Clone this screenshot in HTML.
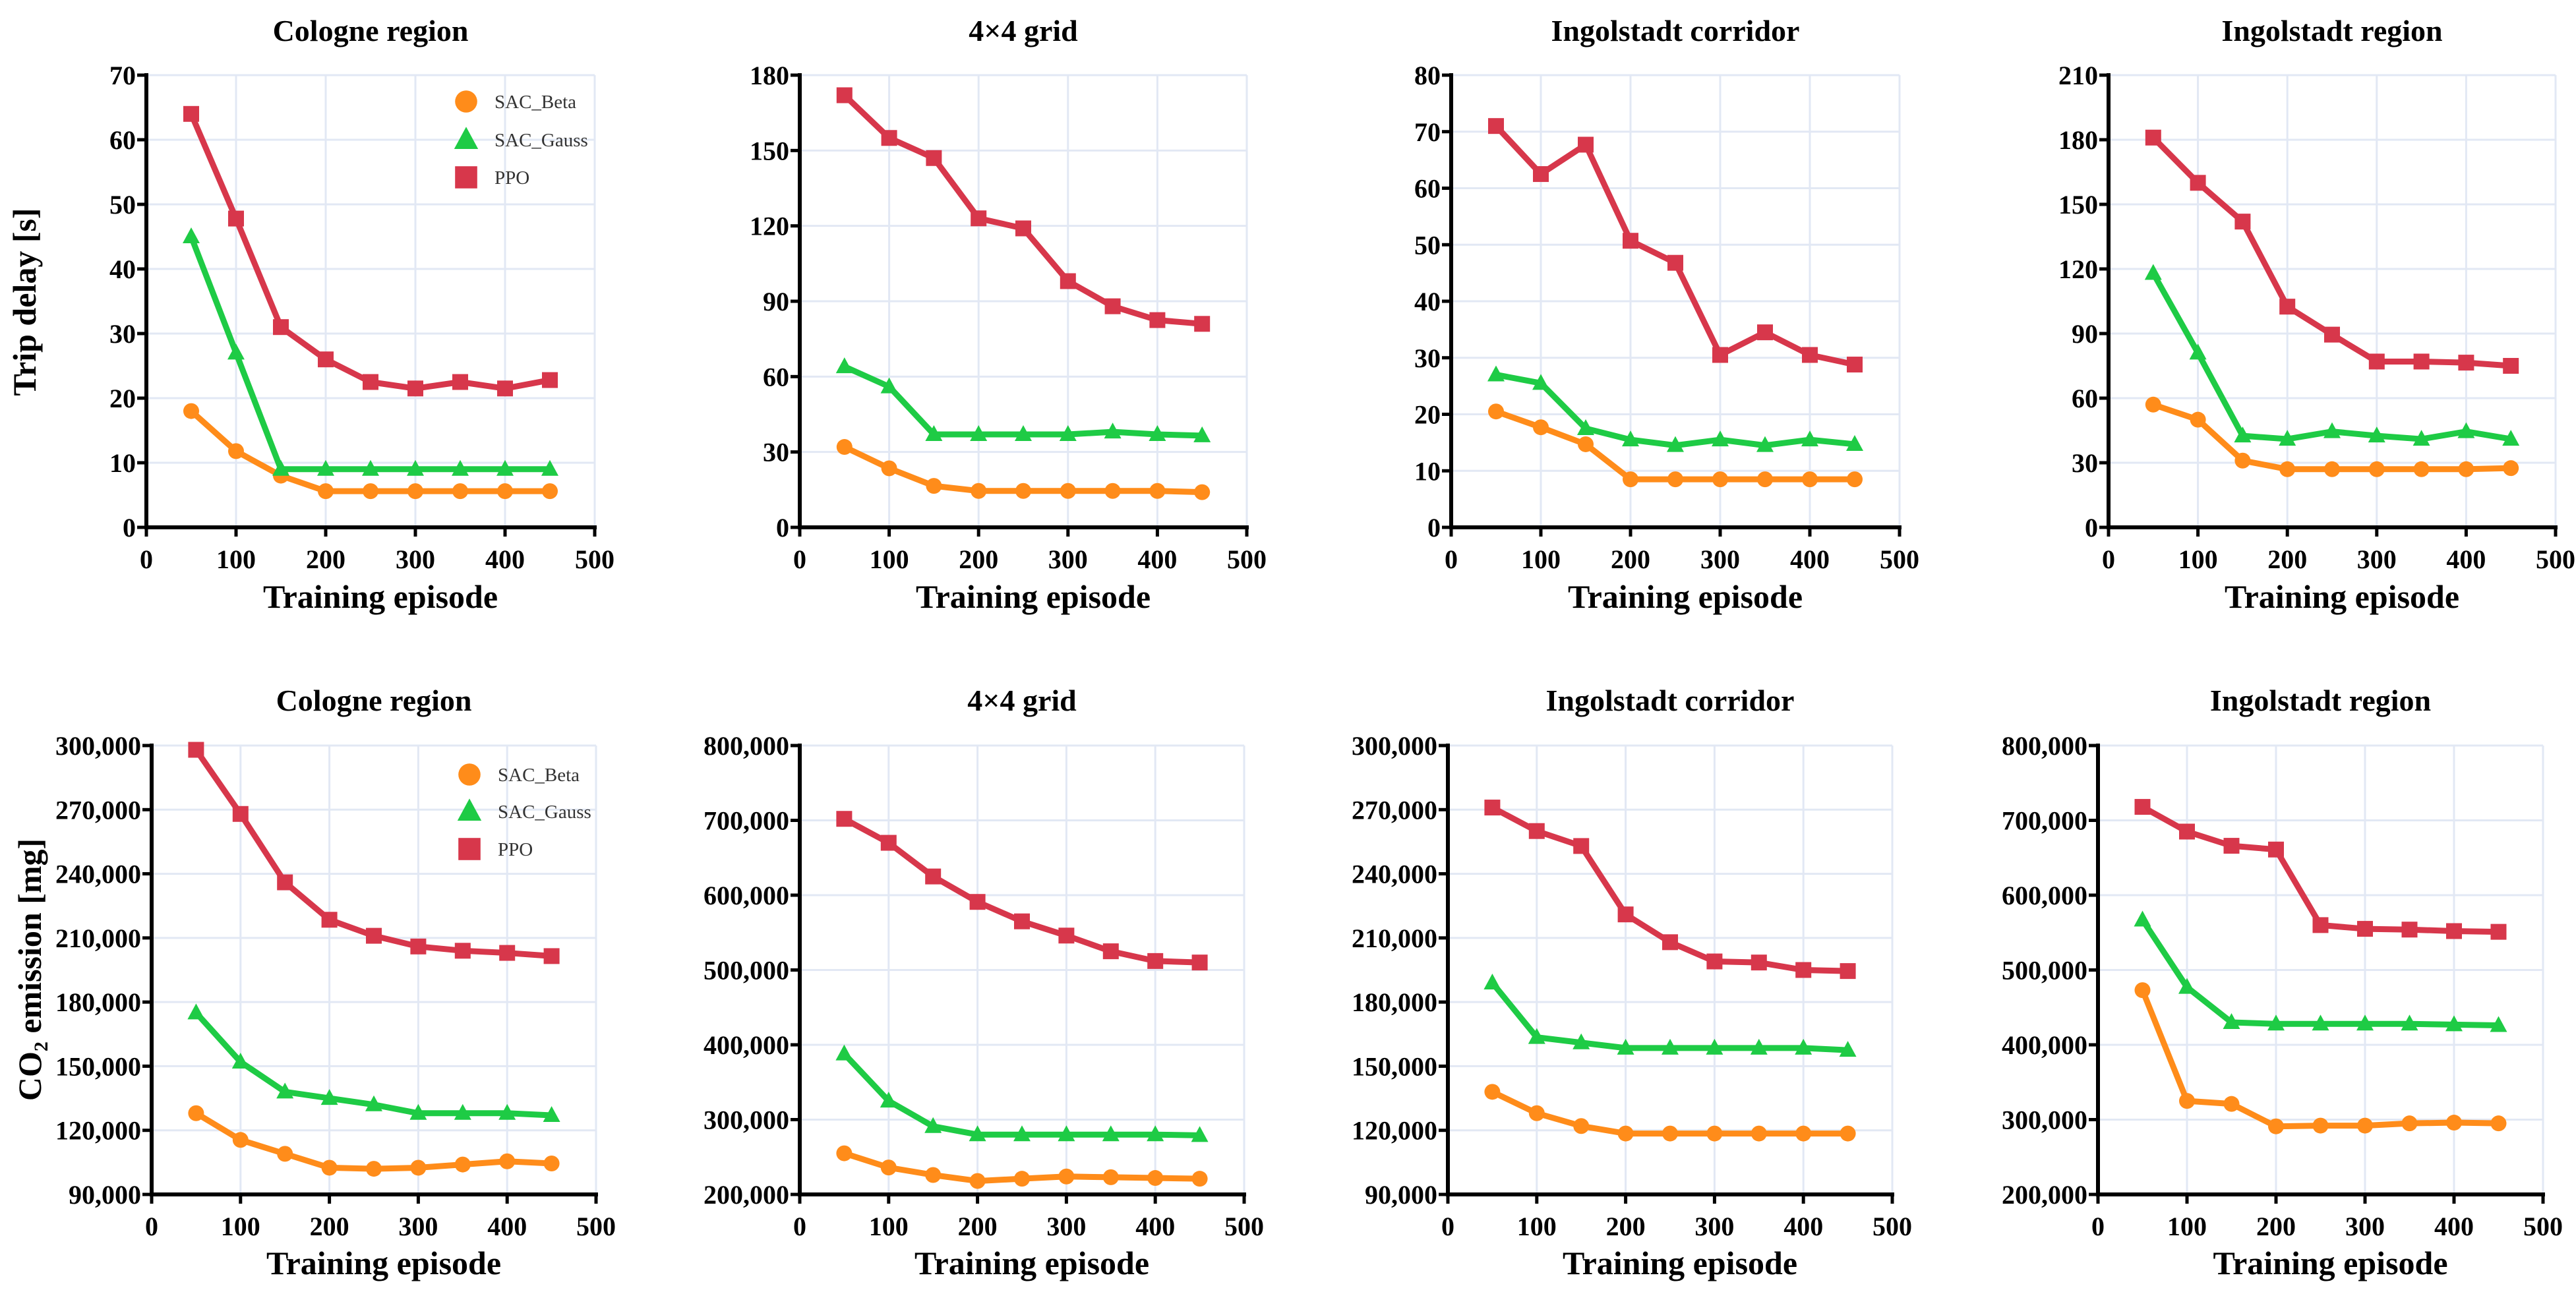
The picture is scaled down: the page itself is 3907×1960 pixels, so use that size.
<!DOCTYPE html>
<html><head><meta charset="utf-8">
<style>
html,body{margin:0;padding:0;background:#fff;}
svg{display:block;}
text{font-family:"Liberation Serif",serif;}
</style></head>
<body>
<svg id="chart" width="3907" height="1960" viewBox="0 0 3907 1960" xmlns="http://www.w3.org/2000/svg"></svg>
<script>
const episodes = [50,100,150,200,250,300,350,400,450];
const xTicks = [0,100,200,300,400,500];

const titles = ["Cologne region","4\u00d74 grid","Ingolstadt corridor","Ingolstadt region"];

// Trip delay [s]
const delayTicksCologne = [0,10,20,30,40,50,60,70];
const delayTicksGrid = [0,30,60,90,120,150,180];
const delayTicksCorridor = [0,10,20,30,40,50,60,70,80];
const delayTicksRegion = [0,30,60,90,120,150,180,210];

const delayCologneBeta = [18,11.8,8,5.6,5.6,5.6,5.6,5.6,5.6];
const delayCologneGauss = [45,27,9,9,9,9,9,9,9];
const delayColognePPO = [64,47.8,31,26,22.5,21.5,22.5,21.5,22.8];

const delayGridBeta = [32,23.5,16.5,14.5,14.5,14.5,14.5,14.5,14];
const delayGridGauss = [64,56,37,37,37,37,38,37,36.5];
const delayGridPPO = [172,155,147,123,119,98,88,82.5,81];

const delayCorridorBeta = [20.5,17.7,14.7,8.5,8.5,8.5,8.5,8.5,8.5];
const delayCorridorGauss = [27,25.5,17.5,15.5,14.5,15.5,14.5,15.5,14.7];
const delayCorridorPPO = [71,62.5,67.7,50.7,46.8,30.5,34.5,30.5,28.8];

const delayRegionBeta = [57,50,31,27,27,27,27,27,27.5];
const delayRegionGauss = [118,81,42.5,41,44.5,42.5,41,44.5,41];
const delayRegionPPO = [181,160,142,102.5,89.5,77,77,76.5,75];

// CO2 emission [mg]
const co2TicksCologne = [90000,120000,150000,180000,210000,240000,270000,300000];
const co2TicksGrid = [200000,300000,400000,500000,600000,700000,800000];
const co2TicksCorridor = [90000,120000,150000,180000,210000,240000,270000,300000];
const co2TicksRegion = [200000,300000,400000,500000,600000,700000,800000];

const co2CologneBeta = [128000,115500,109000,102500,102000,102500,104000,105500,104500];
const co2CologneGauss = [175000,152000,138000,135000,132000,128000,128000,128000,127000];
const co2ColognePPO = [298000,268000,236000,218500,211000,206000,204000,203000,201500];

const co2GridBeta = [255000,236000,226000,218000,221000,224000,223000,222000,221000];
const co2GridGauss = [388000,325000,291000,280000,280000,280000,280000,280000,279000];
const co2GridPPO = [702000,670000,625000,591000,565000,546000,525000,512000,510000];

const co2CorridorBeta = [138000,128000,122000,118500,118500,118500,118500,118500,118500];
const co2CorridorGauss = [189000,163500,161000,158500,158500,158500,158500,158500,157500];
const co2CorridorPPO = [271000,260000,253000,221000,208000,199000,198500,195000,194500];

const co2RegionBeta = [473000,325000,321000,291000,292000,292000,295000,296000,295000];
const co2RegionGauss = [567000,477000,430000,428000,428000,428000,428000,427000,426000];
const co2RegionPPO = [718000,685000,666000,661000,560000,555000,554000,552000,551000];

const svg = document.getElementById('chart');
const NS = 'http://www.w3.org/2000/svg';
const COL = {beta:'#ff8c1a', gauss:'#1ecb45', ppo:'#d7374b'};

function mk(tag, attrs, parent){
  const e = document.createElementNS(NS, tag);
  for (const k in attrs) e.setAttribute(k, attrs[k]);
  (parent||svg).appendChild(e);
  return e;
}
function fmt(v){ return v >= 1000 ? v.toLocaleString('en-US') : String(v); }

function marker(g, type, cx, cy, color, s){
  let m;
  if (type==='beta') m = mk('circle',{cx:cx,cy:cy,r:12*s,fill:color},g);
  else if (type==='gauss') m = mk('polygon',{points:`${cx},${cy-14*s} ${cx+13*s},${cy+10*s} ${cx-13*s},${cy+10*s}`,fill:color},g);
  else m = mk('rect',{x:cx-12*s,y:cy-12*s,width:24*s,height:24*s,fill:color},g);
  return m;
}

function panel(p){
  const g = mk('g',{});
  
  
  const ymin = p.ticks[0], ymax = p.ticks[p.ticks.length-1];
  const X = v => p.x0 + (v/500)*(p.x1-p.x0);
  const Y = v => p.y1 - (v-ymin)/(ymax-ymin)*(p.y1-p.y0);
  // grid
  const grid = mk('g',{},g);
  
  
  xTicks.forEach(t=>{ if(t>0){ mk('line',{x1:X(t),x2:X(t),y1:p.y0,y2:p.y1,stroke:'#e2e8f4','stroke-width':3},grid);} });
  p.ticks.forEach(t=>{ if(t>ymin){ mk('line',{x1:p.x0,x2:p.x1,y1:Y(t),y2:Y(t),stroke:'#e2e8f4','stroke-width':3},grid);} });
  // series
  const series = [['beta',p.beta],['gauss',p.gauss],['ppo',p.ppo]];
  series.forEach(([k,vals])=>{
    const sg = mk('g',{},g);
    
    
    const pts = vals.map((v,i)=>X(episodes[i])+','+Y(v)).join(' ');
    const pl = mk('polyline',{points:pts,fill:'none',stroke:COL[k],'stroke-width':9,'stroke-linejoin':'round'},sg);
    
    
    vals.forEach((v,i)=>{
      const m = marker(sg,k,X(episodes[i]),Y(v),COL[k],1);
      
      
    });
  });
  // axes
  const ax = mk('g',{},g);
  
  
  mk('line',{x1:p.x0,x2:p.x0,y1:p.y0-3,y2:p.y1+3,stroke:'#000','stroke-width':6},ax);
  mk('line',{x1:p.x0-3,x2:p.x1+3,y1:p.y1,y2:p.y1,stroke:'#000','stroke-width':6},ax);
  xTicks.forEach(t=>{
    mk('line',{x1:X(t),x2:X(t),y1:p.y1,y2:p.y1+14,stroke:'#000','stroke-width':5},ax);
    const tx = mk('text',{x:X(t),y:p.y1+62,'text-anchor':'middle','font-size':40,'font-weight':'bold'},ax);
    tx.textContent = t;
    
    
  });
  p.ticks.forEach(t=>{
    mk('line',{x1:p.x0-14,x2:p.x0,y1:Y(t),y2:Y(t),stroke:'#000','stroke-width':5},ax);
    const ty = mk('text',{x:p.x0-16,y:Y(t)+14,'text-anchor':'end','font-size':40,'font-weight':'bold'},ax);
    ty.textContent = fmt(t);
    
    
  });
  const ti = mk('text',{x:(p.x0+p.x1)/2 - 0,y:p.titleY,'text-anchor':'middle','font-size':46,'font-weight':'bold'},g);
  ti.textContent = p.title;
  
  
  const xt = mk('text',{x:(p.x0+p.x1)/2 + 15,y:p.xTitleY,'text-anchor':'middle','font-size':50,'font-weight':'bold'},g);
  xt.textContent = 'Training episode';
  
  
  return {g,X,Y};
}

const topY0 = 114, topY1 = 800, botY0 = 1131, botY1 = 1812;
const topX = [[222,902],[1213,1891],[2201,2881],[3198,3876]];
const botX = [[230,904],[1213,1887],[2196,2870],[3182,3857]];
const topData = [
  [delayTicksCologne,delayCologneBeta,delayCologneGauss,delayColognePPO],
  [delayTicksGrid,delayGridBeta,delayGridGauss,delayGridPPO],
  [delayTicksCorridor,delayCorridorBeta,delayCorridorGauss,delayCorridorPPO],
  [delayTicksRegion,delayRegionBeta,delayRegionGauss,delayRegionPPO]];
const botData = [
  [co2TicksCologne,co2CologneBeta,co2CologneGauss,co2ColognePPO],
  [co2TicksGrid,co2GridBeta,co2GridGauss,co2GridPPO],
  [co2TicksCorridor,co2CorridorBeta,co2CorridorGauss,co2CorridorPPO],
  [co2TicksRegion,co2RegionBeta,co2RegionGauss,co2RegionPPO]];

for (let i=0;i<4;i++){
  panel({name:'delay-panel-'+(i+1), title:titles[i], x0:topX[i][0], x1:topX[i][1], y0:topY0, y1:topY1,
    ticks:topData[i][0], beta:topData[i][1], gauss:topData[i][2], ppo:topData[i][3], titleY:62, xTitleY:922});
  panel({name:'co2-panel-'+(i+1), title:titles[i], x0:botX[i][0], x1:botX[i][1], y0:botY0, y1:botY1,
    ticks:botData[i][0], beta:botData[i][1], gauss:botData[i][2], ppo:botData[i][3], titleY:1078, xTitleY:1933});
}

// y-axis titles
const yt1 = mk('text',{transform:'translate(54,458) rotate(-90)','text-anchor':'middle','font-size':50,'font-weight':'bold'});
yt1.textContent = 'Trip delay [s]';


const yt2 = mk('text',{transform:'translate(62,1471) rotate(-90)','text-anchor':'middle','font-size':50,'font-weight':'bold'});
yt2.innerHTML = 'CO<tspan font-size="30" dy="10">2</tspan><tspan dy="-10"> emission [mg]</tspan>';



// legends
function legend(name, mx, ys){
  const g = mk('g',{});
  
  
  const items = [['beta','SAC_Beta'],['gauss','SAC_Gauss'],['ppo','PPO']];
  items.forEach(([k,l],i)=>{
    const e = mk('g',{},g);
    
    
    marker(e,k,mx,ys[i],COL[k],1.4);
    const t = mk('text',{x:mx+43,y:ys[i]+10,'font-size':29,fill:'#333'},e);
    t.textContent = l;
  });
}
legend('legend-delay', 707, [154,212,269]);
legend('legend-co2', 712, [1175,1231,1288]);
</script>
</body></html>
